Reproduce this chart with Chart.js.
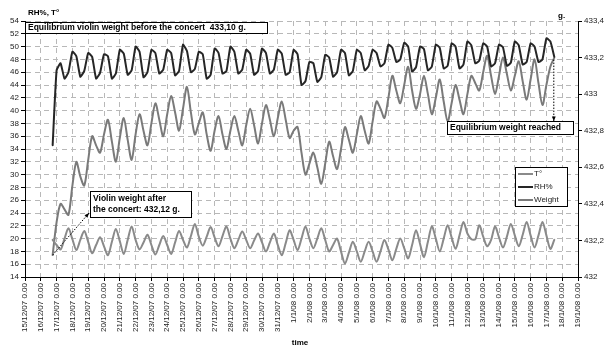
<!DOCTYPE html>
<html>
<head>
<meta charset="utf-8">
<script src="https://cdn.jsdelivr.net/npm/chart.js@4.4.1/dist/chart.umd.min.js"></script>
<style>
  html, body { margin: 0; padding: 0; background: #fff; }
</style>
</head>
<body>
<canvas id="chart" width="605" height="347"></canvas>
<script>
const dateLabels = [
  "15/12/07 0.00", "16/12/07 0.00", "17/12/07 0.00", "18/12/07 0.00", "19/12/07 0.00",
  "20/12/07 0.00", "21/12/07 0.00", "22/12/07 0.00", "23/12/07 0.00", "24/12/07 0.00",
  "25/12/07 0.00", "26/12/07 0.00", "27/12/07 0.00", "28/12/07 0.00", "29/12/07 0.00",
  "30/12/07 0.00", "31/12/07 0.00", "1/1/08 0.00", "2/1/08 0.00", "3/1/08 0.00",
  "4/1/08 0.00", "5/1/08 0.00", "6/1/08 0.00", "7/1/08 0.00", "8/1/08 0.00",
  "9/1/08 0.00", "10/1/08 0.00", "11/1/08 0.00", "12/1/08 0.00", "13/1/08 0.00",
  "14/1/08 0.00", "15/1/08 0.00", "16/1/08 0.00", "17/1/08 0.00", "18/1/08 0.00",
  "19/1/08 0.00"
];

// readings every 6 hours, first one on 16/12/07 18.00 (1.75 days after 15/12/07 0.00)
const sampleStart = 1.75;
const sampleStep = 0.25;

const tempValues = [
  19.8,
  19.0, 18.3, 20.0, 21.6,   19.9, 18.2, 19.8, 21.2,   19.5, 17.7, 19.0, 20.2,
  18.8, 17.4, 19.5, 21.5,   19.6, 17.6, 19.8, 21.9,   19.8, 18.3, 19.4, 20.6,
  19.0, 17.5, 19.0, 20.4,   19.0, 17.6, 19.4, 21.2,   19.8, 18.6, 20.4, 22.3,
  20.3, 18.9, 20.3, 21.8,   20.2, 18.8, 20.4, 21.9,   20.0, 18.5, 19.8, 21.1,
  19.8, 18.5, 19.7, 20.8,   19.4, 18.0, 19.4, 20.8,   19.0, 17.4, 19.3, 21.3,
  19.8, 18.2, 20.0, 21.9,   20.0, 18.5, 20.0, 21.6,   19.8, 18.0, 19.0, 20.0,
  18.0, 16.1, 17.8, 19.5,   18.0, 16.4, 18.0, 19.5,   18.0, 16.4, 18.0, 19.8,
  18.3, 16.6, 18.4, 20.0,   18.5, 16.9, 19.0, 21.3,   19.2, 17.1, 19.5, 21.9,
  20.0, 18.0, 20.0, 22.1,   20.2, 18.4, 20.5, 22.6,   20.8, 19.9, 19.9, 22.1,
  20.3, 18.8, 19.8, 21.9,   20.2, 18.6, 20.3, 22.3,   20.5, 18.8, 20.6, 22.6,
  20.5, 18.6, 20.5, 22.6,
  20.5, 18.4, 19.8
];

const rhValues = [
  34.6,
  46.3, 47.4, 45.0, 46.0,   49.2, 48.5, 45.3, 46.2,   49.0, 48.4, 45.0, 45.9,
  48.8, 48.5, 45.0, 45.8,   49.5, 48.9, 45.6, 46.3,   50.0, 49.2, 45.2, 46.0,
  49.5, 49.0, 45.8, 46.4,   49.5, 49.0, 45.5, 46.2,   50.3, 49.3, 46.0, 46.5,
  49.2, 48.8, 45.0, 45.6,   49.7, 49.0, 45.8, 46.2,   50.0, 49.2, 45.8, 46.4,
  49.5, 48.9, 45.6, 46.2,   49.7, 49.0, 45.8, 46.4,   49.5, 48.9, 45.6, 46.0,
  49.5, 48.8, 44.0, 44.6,   47.6, 47.4, 44.5, 45.2,   48.7, 48.3, 45.3, 46.0,
  49.5, 49.0, 45.5, 46.2,   49.5, 49.0, 46.3, 47.0,   49.5, 49.0, 46.9, 47.4,
  50.3, 49.8, 47.6, 48.0,   50.6, 50.0, 46.1, 46.8,   50.0, 49.6, 46.3, 46.9,
  50.3, 49.8, 46.6, 47.0,   50.5, 50.0, 46.6, 47.2,   50.8, 50.2, 47.4, 47.8,
  50.5, 50.0, 46.9, 47.4,   50.3, 49.9, 47.0, 47.5,   50.8, 50.2, 47.2, 47.6,
  50.5, 50.0, 47.6, 48.0,
  51.3, 50.8, 48.4
];

const weightValues = [
  432.12,
  432.30, 432.40, 432.37, 432.34,   432.50, 432.63, 432.55, 432.50,   432.64, 432.77, 432.72, 432.68,
  432.78, 432.86, 432.74, 432.63,   432.76, 432.87, 432.75, 432.64,   432.78, 432.89, 432.80, 432.72,
  432.84, 432.95, 432.86, 432.77,   432.89, 432.99, 432.90, 432.80,   432.92, 433.04, 432.90, 432.78,
  432.84, 432.90, 432.78, 432.69,   432.80, 432.88, 432.78, 432.70,   432.80, 432.88, 432.80, 432.72,
  432.83, 432.92, 432.83, 432.73,   432.84, 432.94, 432.86, 432.77,   432.87, 432.96, 432.86, 432.76,
  432.80, 432.82, 432.68, 432.56,   432.62, 432.68, 432.60, 432.51,   432.62, 432.74, 432.66, 432.59,
  432.70, 432.82, 432.75, 432.68,   432.78, 432.88, 432.80, 432.73,   432.85, 432.96, 432.92, 432.87,
  432.98, 433.10, 433.02, 432.95,   433.05, 433.15, 433.02, 432.92,   433.00, 433.10, 433.00, 432.89,
  432.98, 433.08, 432.96, 432.85,   432.95, 433.05, 432.97, 432.89,   433.00, 433.10, 433.06, 433.02,
  433.12, 433.21, 433.10, 433.00,   433.10, 433.20, 433.11, 433.02,   433.10, 433.18, 433.07, 432.97,
  433.08, 433.19, 433.06, 432.94,
  433.05, 433.15, 433.20
];

const seriesNames = ["T°", "RH%", "Weight"];
const seriesColors = ["#8a8a8a", "#262626", "#7a7a7a"];

const toPoints = (vals) => vals.map((v, i) => ({ x: sampleStart + i * sampleStep, y: v }));
const FONT = "'Liberation Sans', Arial, sans-serif";

const fmtGrams = (v) => v.toFixed(1).replace(/\.0$/, "").replace(".", ",");

const drawArrow = (ctx, x1, y1, x2, y2) => {
  ctx.save();
  ctx.strokeStyle = "#000";
  ctx.lineWidth = 1;
  ctx.setLineDash([1.5, 1.5]);
  ctx.beginPath();
  ctx.moveTo(x1, y1);
  ctx.lineTo(x2, y2);
  ctx.stroke();
  ctx.setLineDash([]);
  const ang = Math.atan2(y2 - y1, x2 - x1);
  ctx.fillStyle = "#000";
  ctx.beginPath();
  ctx.moveTo(x2, y2);
  ctx.lineTo(x2 - 5 * Math.cos(ang - 0.4), y2 - 5 * Math.sin(ang - 0.4));
  ctx.lineTo(x2 - 5 * Math.cos(ang + 0.4), y2 - 5 * Math.sin(ang + 0.4));
  ctx.closePath();
  ctx.fill();
  ctx.restore();
};

const textBox = (ctx, x, y, w, h, lines, lineGap) => {
  ctx.save();
  ctx.fillStyle = "#fff";
  ctx.fillRect(x, y, w, h);
  ctx.strokeStyle = "#000";
  ctx.lineWidth = 1;
  ctx.strokeRect(x + 0.5, y + 0.5, w, h);
  ctx.fillStyle = "#000";
  ctx.font = "bold 8.5px " + FONT;
  ctx.textBaseline = "middle";
  lines.forEach((t, i) => ctx.fillText(t, x + 3, y + h / 2 + (i - (lines.length - 1) / 2) * lineGap));
  ctx.restore();
};

const notes = {
  id: "notes",
  afterDatasetsDraw(chart) {
    const { ctx, scales } = chart;
    const xs = scales.x, y1 = scales.y1;

    ctx.save();
    ctx.fillStyle = "#000";
    ctx.font = "bold 8px " + FONT;
    ctx.textBaseline = "alphabetic";
    ctx.fillText("RH%, T°", 28, 15);
    ctx.fillText("g.", 558, 18);
    ctx.textAlign = "center";
    ctx.fillText("time", 300, 345);
    ctx.restore();

    textBox(ctx, 25, 22, 242, 11, ["Equilibrium violin weight before the concert  433,10 g."], 0);
    textBox(ctx, 447, 121, 126, 13, ["Equilibrium weight reached"], 0);
    textBox(ctx, 90, 191, 101, 26, ["Violin weight after", "the concert: 432,12 g."], 11);

    const firstX = xs.getPixelForValue(sampleStart);
    const firstY = y1.getPixelForValue(weightValues[0]);
    drawArrow(ctx, firstX, firstY, 89, 213);
    const lastX = xs.getPixelForValue(sampleStart + (weightValues.length - 1) * sampleStep);
    const lastY = y1.getPixelForValue(weightValues[weightValues.length - 1]);
    drawArrow(ctx, lastX - 0.5, lastY + 2, lastX - 0.5, 121);

    // legend
    ctx.save();
    ctx.fillStyle = "#fff";
    ctx.fillRect(515, 167, 52, 39);
    ctx.strokeStyle = "#000";
    ctx.lineWidth = 1;
    ctx.strokeRect(515.5, 167.5, 52, 39);
    ctx.font = "8px " + FONT;
    ctx.textBaseline = "middle";
    seriesNames.forEach((name, i) => {
      const yy = 174 + i * 13;
      ctx.strokeStyle = seriesColors[i];
      ctx.lineWidth = 2;
      ctx.beginPath();
      ctx.moveTo(518, yy);
      ctx.lineTo(533, yy);
      ctx.stroke();
      ctx.fillStyle = "#222";
      ctx.fillText(name, 534, yy);
    });
    ctx.restore();
  },
};

new Chart(document.getElementById("chart"), {
  type: "line",
  data: {
    datasets: [
      { label: seriesNames[0], data: toPoints(tempValues), yAxisID: "y", borderColor: seriesColors[0], tension: 0.3 },
      { label: seriesNames[1], data: toPoints(rhValues), yAxisID: "y", borderColor: seriesColors[1], tension: 0.15 },
      { label: seriesNames[2], data: toPoints(weightValues), yAxisID: "y1", borderColor: seriesColors[2], tension: 0.3 },
    ],
  },
  options: {
    responsive: false,
    animation: false,
    devicePixelRatio: 1,
    layout: { padding: { top: 21, left: 0, right: 0, bottom: 0 } },
    elements: {
      point: { radius: 0 },
      line: { borderWidth: 2, fill: false, borderJoinStyle: "round", borderCapStyle: "round" },
    },
    plugins: { legend: { display: false }, tooltip: { enabled: false } },
    scales: {
      x: {
        type: "linear",
        min: 0,
        max: 35,
        afterFit: (s) => { s.height = 70; },
        ticks: {
          stepSize: 1,
          autoSkip: false,
          maxRotation: 90,
          minRotation: 90,
          padding: 2,
          color: "#222",
          font: { family: FONT, size: 8 },
          callback: (v) => dateLabels[v] ?? "",
        },
        grid: { color: "#b8b8b8", lineWidth: 1, tickLength: 4, tickColor: "#000", tickBorderDash: [] },
        border: { color: "#000", width: 1, dash: [5, 4] },
      },
      y: {
        position: "left",
        min: 14,
        max: 54,
        afterFit: (s) => { s.width = 25; },
        ticks: { stepSize: 2, padding: 2, color: "#222", font: { family: FONT, size: 8 } },
        grid: { color: "#b8b8b8", lineWidth: 1, tickLength: 4, tickColor: "#000", tickBorderDash: [] },
        border: { color: "#000", width: 1, dash: [5, 4] },
      },
      y1: {
        position: "right",
        min: 432,
        max: 433.4,
        afterFit: (s) => { s.width = 27; },
        ticks: { stepSize: 0.2, padding: 2, color: "#222", font: { family: FONT, size: 8 }, callback: (v) => fmtGrams(v) },
        grid: { drawOnChartArea: false, tickLength: 4, tickColor: "#000" },
        border: { color: "#000", width: 1 },
      },
    },
  },
  plugins: [notes],
});
</script>
</body>
</html>
